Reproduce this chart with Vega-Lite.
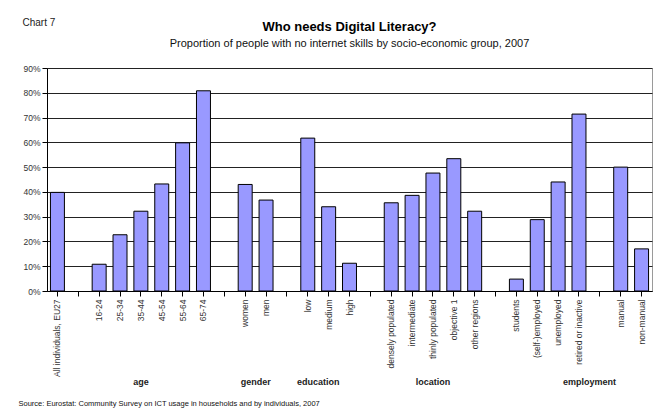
{
  "$schema": "https://vega.github.io/schema/vega-lite/v6.json",
  "width": 605,
  "height": 223,
  "padding": {"left": 18, "top": 17, "right": 5, "bottom": 5},
  "background": "white",
  "config": {
    "font": "Liberation Sans",
    "view": {"stroke": "#9a9a9a"}
  },
  "title": {
    "text": "Who needs Digital Literacy?",
    "subtitle": "Proportion of people with no internet skills by socio-economic group, 2007",
    "anchor": "middle",
    "frame": "group",
    "fontSize": 13,
    "fontWeight": "bold",
    "color": "#000000",
    "subtitleFontSize": 11,
    "subtitleColor": "#111111",
    "subtitlePadding": 4,
    "offset": -32
  },
  "datasets": {
    "main": [
      {"category": "All individuals, EU27", "value": 0.398},
      {"category": "16-24", "value": 0.108},
      {"category": "25-34", "value": 0.227},
      {"category": "35-44", "value": 0.322},
      {"category": "45-54", "value": 0.432},
      {"category": "55-64", "value": 0.598},
      {"category": "65-74", "value": 0.808},
      {"category": "women", "value": 0.430},
      {"category": "men", "value": 0.367},
      {"category": "low", "value": 0.617},
      {"category": "medium", "value": 0.340},
      {"category": "high", "value": 0.112},
      {"category": "densely populated", "value": 0.356},
      {"category": "intermediate", "value": 0.386},
      {"category": "thinly populated", "value": 0.476},
      {"category": "objective 1", "value": 0.534},
      {"category": "other regions", "value": 0.322},
      {"category": "students", "value": 0.048},
      {"category": "(self-)employed", "value": 0.288},
      {"category": "unemployed", "value": 0.440},
      {"category": "retired or inactive", "value": 0.714},
      {"category": "manual", "value": 0.500},
      {"category": "non-manual", "value": 0.170}
    ],
    "groupsCentered": [
      {"group": "age", "category": "35-44", "value": 0},
      {"group": "location", "category": "thinly populated", "value": 0}
    ],
    "groupsAtEdge": [
      {"group": "gender", "category": "men", "value": 0},
      {"group": "education", "category": "medium", "value": 0},
      {"group": "employment", "category": "      ", "value": 0}
    ]
  },
  "encoding": {
    "x": {
      "field": "category",
      "type": "nominal",
      "sort": null,
      "scale": {
        "domain": ["All individuals, EU27", " ", "16-24", "25-34", "35-44", "45-54", "55-64", "65-74", "  ", "women", "men", "   ", "low", "medium", "high", "    ", "densely populated", "intermediate", "thinly populated", "objective 1", "other regions", "     ", "students", "(self-)employed", "unemployed", "retired or inactive", "      ", "manual", "non-manual"],
        "paddingInner": 0.33,
        "paddingOuter": 0.165
      },
      "axis": {
        "title": "Source: Eurostat: Community Survey on ICT usage in households and by individuals, 2007",
        "titleX": -29,
        "titleY": 112,
        "titleAlign": "left",
        "titleBaseline": "middle",
        "titleFontSize": 7.5,
        "titleFontWeight": "normal",
        "titleColor": "#111111",
        "labelAngle": -90,
        "labelAlign": "right",
        "labelBaseline": "middle",
        "labelPadding": 3,
        "labelFontSize": 8.5,
        "labelColor": "#333333",
        "tickSize": 5,
        "tickColor": "#000000",
        "domainColor": "#000000",
        "grid": false
      }
    },
    "y": {
      "field": "value",
      "type": "quantitative",
      "scale": {"domain": [0, 0.9], "nice": false},
      "axis": {
        "values": [0, 0.1, 0.2, 0.3, 0.4, 0.5, 0.6, 0.7, 0.8, 0.9],
        "format": ".0%",
        "labelFontSize": 8.5,
        "labelColor": "#333333",
        "labelPadding": 2,
        "tickSize": 5,
        "tickColor": "#000000",
        "domainColor": "#000000",
        "grid": true,
        "gridColor": "#222222",
        "title": "Chart 7",
        "titleAngle": 0,
        "titleAlign": "left",
        "titleBaseline": "middle",
        "titleX": -25,
        "titleY": -46,
        "titleFontSize": 10,
        "titleFontWeight": "normal",
        "titleColor": "#222222"
      }
    }
  },
  "layer": [
    {
      "data": {"name": "main"},
      "mark": {"type": "bar", "fill": "#9999FF", "stroke": "#000000", "strokeWidth": 1}
    },
    {
      "data": {"name": "groupsCentered"},
      "mark": {"type": "text", "fontWeight": "bold", "fontSize": 9, "color": "#222222", "dy": 91, "baseline": "middle", "align": "center"},
      "encoding": {
        "text": {"field": "group"}
      }
    },
    {
      "data": {"name": "groupsAtEdge"},
      "mark": {"type": "text", "fontWeight": "bold", "fontSize": 9, "color": "#222222", "dy": 91, "dx": -10.4, "baseline": "middle", "align": "center"},
      "encoding": {
        "text": {"field": "group"}
      }
    }
  ]
}
